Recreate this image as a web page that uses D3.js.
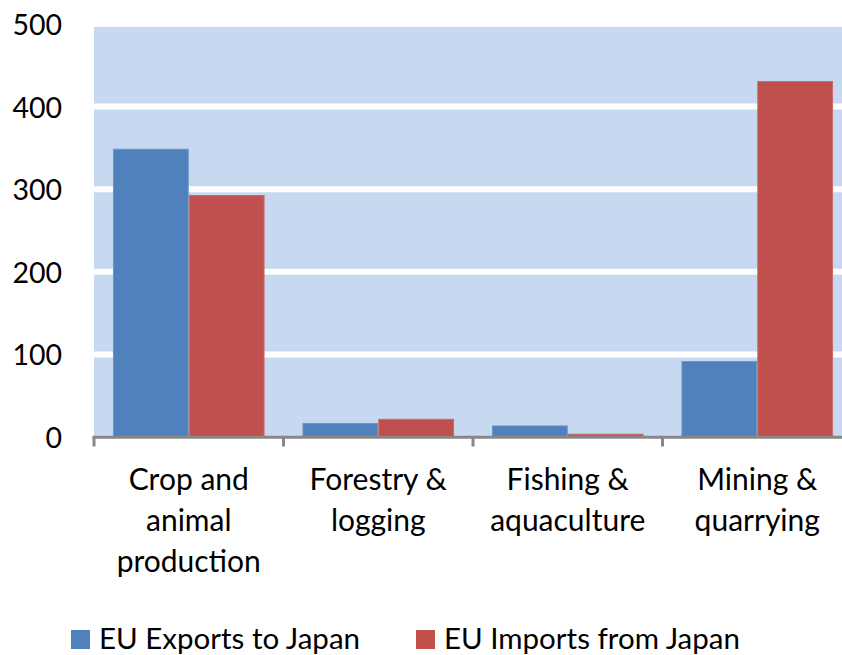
<!DOCTYPE html>
<html>
<head>
<meta charset="utf-8">
<script src="https://cdn.jsdelivr.net/npm/d3@7"></script>
<style>
  html, body { margin: 0; padding: 0; background: #fff; }
  svg { display: block; }
  text { font-family: Lato, "Open Sans", sans-serif; fill: #000; }
</style>
</head>
<body>
<svg id="chart" width="842" height="655"></svg>
<script>
const categories = [
  ["Crop and", "animal", "production"],
  ["Forestry &", "logging"],
  ["Fishing &", "aquaculture"],
  ["Mining &", "quarrying"]
];
const categoryKeys = ["Crop and animal production", "Forestry & logging", "Fishing & aquaculture", "Mining & quarrying"];
const seriesNames = ["EU Exports to Japan", "EU Imports from Japan"];
const exportsToJapan = [349, 17, 14, 92];
const importsFromJapan = [293, 22, 4, 431];
const yTicks = [0, 100, 200, 300, 400, 500];
const colors = ["#4F81BD", "#C0504D"];
const strokes = ["#6f94c6", "#c96c69"];

const svg = d3.select("#chart");
const x = d3.scaleBand().domain(categoryKeys).range([94, 852]).padding(0);
const y = d3.scaleLinear().domain([0, 500]).range([437, 24]);

const step = x.bandwidth();
const barW = step / 2.5;
const xs = d3.scaleBand().domain(seriesNames).range([barW * 0.25, step - barW * 0.25]).padding(0);

// plot background
svg.append("rect")
  .attr("x", x.range()[0]).attr("y", y(500))
  .attr("width", x.range()[1] - x.range()[0]).attr("height", y(0) - y(500))
  .attr("fill", "#C6D9F1");

// gridlines
svg.append("g").selectAll("line").data(yTicks.filter(d => d > 0)).join("line")
  .attr("x1", x.range()[0]).attr("x2", x.range()[1])
  .attr("y1", d => y(d)).attr("y2", d => y(d))
  .attr("stroke", "#fff").attr("stroke-width", 6);

// bars
const data = categoryKeys.map((c, i) => ({ cat: c, vals: [exportsToJapan[i], importsFromJapan[i]] }));
const groups = svg.append("g").selectAll("g").data(data).join("g")
  .attr("transform", d => `translate(${x(d.cat)},0)`);
groups.selectAll("rect").data(d => d.vals.map((v, j) => ({ s: seriesNames[j], v, j }))).join("rect")
  .attr("x", d => xs(d.s) + 0.5)
  .attr("y", d => y(d.v) + 0.5)
  .attr("width", xs.bandwidth() - 1)
  .attr("height", d => y(0) - y(d.v) - 0.5)
  .attr("fill", d => colors[d.j])
  .attr("stroke", d => strokes[d.j]).attr("stroke-width", 1);

// x axis line and ticks
const boundaries = categoryKeys.map(c => x(c)).concat([x.range()[1]]);
svg.append("line")
  .attr("x1", x.range()[0] - 1.5).attr("x2", x.range()[1])
  .attr("y1", y(0) + 0.3).attr("y2", y(0) + 0.3)
  .attr("stroke", "#878787").attr("stroke-width", 3);
svg.append("g").selectAll("line").data(boundaries).join("line")
  .attr("x1", d => d).attr("x2", d => d)
  .attr("y1", y(0)).attr("y2", y(0) + 9.5)
  .attr("stroke", "#878787").attr("stroke-width", 3);

// y labels
svg.append("g").selectAll("text").data(yTicks).join("text")
  .attr("x", 62).attr("y", d => y(d))
  .attr("text-anchor", "end").attr("dominant-baseline", "central")
  .attr("font-size", 28.5)
  .text(d => d);

// category labels
const cl = svg.append("g").selectAll("text").data(categoryKeys).join("text")
  .attr("text-anchor", "middle")
  .attr("font-size", 30);
cl.each(function(c, i) {
  const t = d3.select(this);
  categories[i].forEach((line, k) => {
    t.append("tspan").attr("x", x(c) + step / 2).attr("y", 490 + k * 41).text(line);
  });
});

// legend
const legendX = [71, 416];
const lg = svg.append("g").selectAll("g").data(seriesNames).join("g");
lg.append("rect")
  .attr("x", (d, i) => legendX[i]).attr("y", 630)
  .attr("width", 19).attr("height", 19)
  .attr("fill", (d, i) => colors[i]);
lg.append("text")
  .attr("x", (d, i) => legendX[i] + 28).attr("y", 649)
  .attr("font-size", 29.5)
  .text(d => d);
</script>
</body>
</html>
